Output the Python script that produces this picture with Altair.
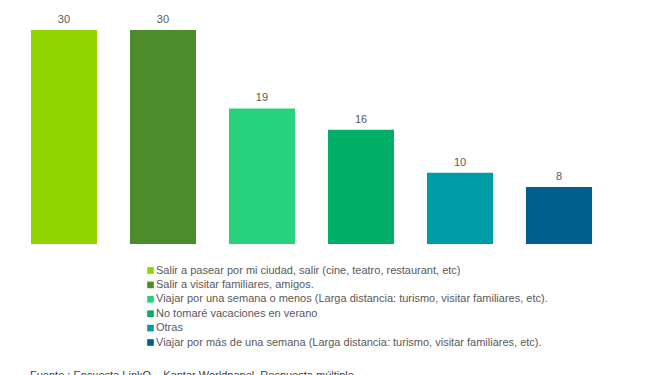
import altair as alt
import pandas as pd

categories = [
    "Salir a pasear por mi ciudad, salir (cine, teatro, restaurant, etc)",
    "Salir a visitar familiares, amigos.",
    "Viajar por una semana o menos (Larga distancia: turismo, visitar familiares, etc).",
    "No tomaré vacaciones en verano",
    "Otras",
    "Viajar por más de una semana (Larga distancia: turismo, visitar familiares, etc).",
]
values = [30, 30, 19, 16, 10, 8]
colors = ["#92D400", "#4C8C2B", "#28D27C", "#00AE68", "#009CA6", "#005F8E"]
source_note = "Fuente : Encuesta LinkQ – Kantar Worldpanel. Respuesta múltiple"

df = pd.DataFrame({"cat": categories, "val": values})
FONT = "Liberation Sans"

x = alt.X("cat:N", sort=categories,
          scale=alt.Scale(paddingInner=0.333, paddingOuter=0.232),
          axis=None)
y = alt.Y("val:Q", scale=alt.Scale(domain=[0, 33.08], nice=False, zero=True), axis=None)

bars = alt.Chart(df).mark_bar().encode(
    x=x, y=y,
    color=alt.Color("cat:N", sort=categories,
                    scale=alt.Scale(domain=categories, range=colors),
                    legend=alt.Legend(title=None, orient="none", legendX=137, legendY=257,
                                      symbolType="square", symbolSize=44, symbolStrokeWidth=0,
                                      labelFontSize=11, labelFont=FONT, labelColor="#595959",
                                      rowPadding=2.4, labelOffset=0, labelLimit=600,
                                      padding=0)),
)

labels = alt.Chart(df).mark_text(dy=-10, fontSize=11, font=FONT, color="#595959").encode(
    x=x, y=y, text="val:Q"
)

note = alt.Chart(pd.DataFrame({"t": [source_note]})).mark_text(
    align="left", baseline="alphabetic", fontSize=11, font=FONT, color="#404040"
).encode(x=alt.value(22), y=alt.value(371), text="t:N")

chart = alt.layer(bars, labels, note).properties(
    width=607, height=236,
    autosize=alt.AutoSizeParams(type="none"),
    padding={"left": 0, "top": 0, "right": 0, "bottom": 160},
).configure_view(stroke=None)

chart.save("out.html", embed_options={"renderer": "svg", "actions": False})
